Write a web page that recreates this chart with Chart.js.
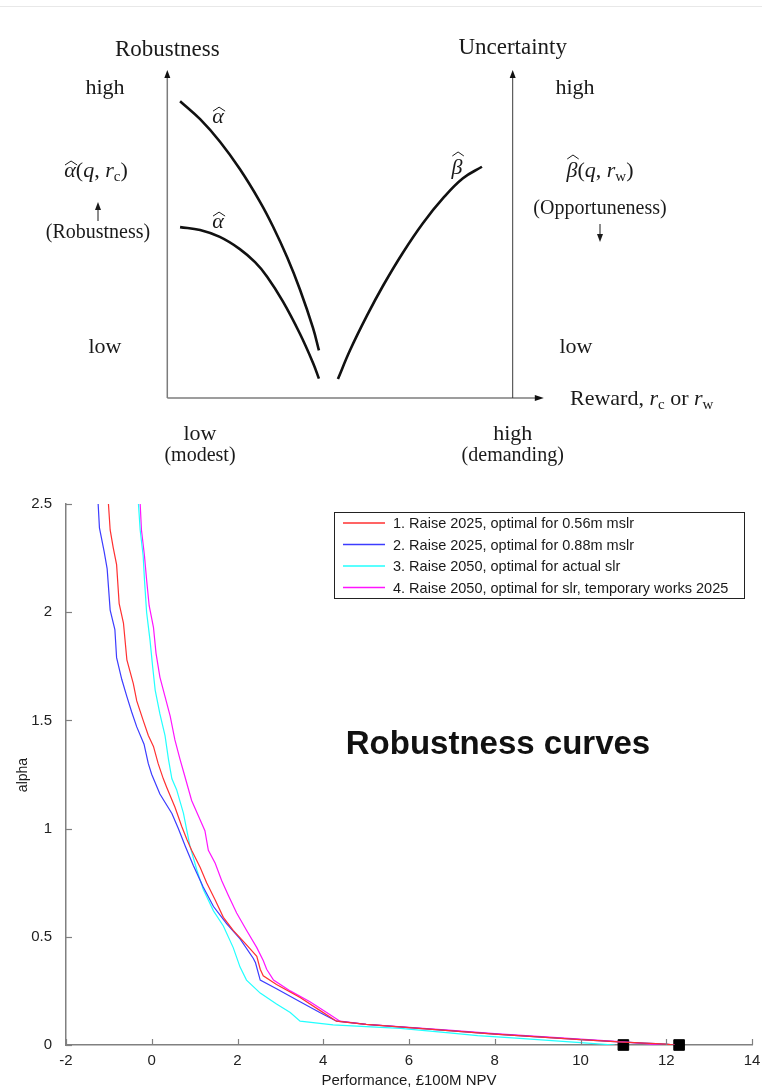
<!DOCTYPE html>
<html>
<head>
<meta charset="utf-8">
<title>Robustness curves</title>
<script src="https://cdn.jsdelivr.net/npm/chart.js@4.4.1/dist/chart.umd.min.js"></script>
<style>
  html, body { margin: 0; padding: 0; background: #fff; }
  body { width: 762px; height: 1089px; position: relative; overflow: hidden; }
  .rule { position: absolute; left: 0; top: 6px; width: 762px; height: 1px; background: #e8e8e8; }
  #sketch { position: absolute; left: 0; top: 0; }
  #curves { position: absolute; left: 0; top: 480px; }
</style>
</head>
<body>
<div class="rule"></div>
<canvas id="sketch" width="762" height="480"></canvas>
<canvas id="curves" width="762" height="609"></canvas>
<script>
// Concept sketch, arbitrary units: reward 0..10 across, robustness / uncertainty 0..10 up
const upperReward = [0.37, 0.95, 1.52, 2.10, 2.68, 3.06, 3.47, 3.84, 4.22, 4.39];
const upperRobust = [9.05, 8.50, 7.82, 6.98, 5.99, 5.23, 4.29, 3.31, 2.13, 1.45];
const lowerReward = [0.37, 0.95, 1.52, 2.10, 2.54, 2.89, 3.35, 3.84, 4.22, 4.39];
const lowerRobust = [5.21, 5.12, 4.91, 4.54, 4.14, 3.70, 2.94, 1.96, 1.07, 0.59];
const betaReward = [4.94, 5.29, 5.78, 6.25, 6.82, 7.40, 7.99, 8.56, 9.11];
const betaOpport = [0.58, 1.455, 2.51, 3.43, 4.43, 5.33, 6.10, 6.70, 7.05];

// Robustness curves: performance (£100M NPV) against alpha
const seriesLabels = [
  "1. Raise 2025, optimal for 0.56m mslr",
  "2. Raise 2025, optimal for 0.88m mslr",
  "3. Raise 2050, optimal for actual slr",
  "4. Raise 2050, optimal for slr, temporary works 2025",
];
const seriesColors = ["#ff3030", "#3c3cff", "#22ffff", "#ff14ff"];

const perf1 = [-1.01, -0.97, -0.90, -0.82, -0.76, -0.66, -0.58, -0.43, -0.35, -0.20, -0.08, 0.04, 0.15, 0.27, 0.35, 0.54, 0.70, 0.82, 0.93, 1.13, 1.28, 1.48, 1.67, 1.90, 2.18, 2.45, 2.53, 2.60, 2.91, 3.46, 3.92, 4.31, 5.0, 6.0, 7.0, 8.0, 9.0, 10.0, 11.0, 12.0, 12.2];
const alpha1 = [2.5, 2.38, 2.30, 2.22, 2.04, 1.95, 1.78, 1.67, 1.59, 1.50, 1.43, 1.38, 1.30, 1.23, 1.19, 1.10, 1.01, 0.95, 0.90, 0.82, 0.75, 0.67, 0.59, 0.53, 0.47, 0.41, 0.35, 0.32, 0.28, 0.22, 0.16, 0.11, 0.095, 0.08, 0.065, 0.05, 0.038, 0.025, 0.013, 0.004, 0];

const perf2 = [-1.25, -1.22, -1.11, -1.04, -0.97, -0.86, -0.82, -0.70, -0.58, -0.47, -0.35, -0.18, -0.08, 0.0, 0.19, 0.47, 0.62, 0.78, 0.97, 1.20, 1.44, 1.75, 2.06, 2.37, 2.42, 2.53, 2.91, 3.46, 3.92, 4.31, 5.0, 6.0, 7.0, 8.0, 9.0, 10.0, 11.0, 12.0, 12.2];
const alpha2 = [2.5, 2.39, 2.28, 2.20, 2.01, 1.92, 1.79, 1.69, 1.61, 1.54, 1.47, 1.39, 1.30, 1.25, 1.16, 1.07, 1.00, 0.92, 0.83, 0.73, 0.64, 0.56, 0.49, 0.40, 0.38, 0.30, 0.26, 0.20, 0.15, 0.11, 0.095, 0.08, 0.065, 0.05, 0.038, 0.025, 0.013, 0.004, 0];

const perf3 = [-0.31, -0.27, -0.20, -0.17, -0.12, -0.04, 0.02, 0.08, 0.19, 0.31, 0.39, 0.47, 0.58, 0.74, 0.82, 0.89, 1.05, 1.20, 1.44, 1.67, 1.90, 2.06, 2.21, 2.53, 2.91, 3.23, 3.46, 3.92, 4.23, 5.0, 5.8, 7.0, 7.6, 8.5, 10.0, 10.8];
const alpha3 = [2.5, 2.38, 2.26, 2.15, 2.00, 1.87, 1.75, 1.64, 1.53, 1.43, 1.32, 1.23, 1.18, 1.07, 0.99, 0.92, 0.81, 0.72, 0.62, 0.55, 0.45, 0.36, 0.30, 0.24, 0.19, 0.15, 0.11, 0.10, 0.093, 0.085, 0.077, 0.055, 0.043, 0.032, 0.011, 0];

const perf4 = [-0.27, -0.24, -0.17, -0.12, -0.06, 0.04, 0.10, 0.19, 0.31, 0.43, 0.54, 0.66, 0.76, 0.93, 1.13, 1.24, 1.32, 1.48, 1.63, 1.79, 1.98, 2.21, 2.45, 2.60, 2.68, 2.84, 3.23, 3.69, 4.08, 4.39, 5.0, 6.0, 7.0, 8.0, 9.0, 10.0, 11.0, 11.9];
const alpha4 = [2.5, 2.38, 2.26, 2.15, 2.03, 1.93, 1.81, 1.70, 1.61, 1.52, 1.41, 1.32, 1.25, 1.13, 1.04, 0.99, 0.90, 0.84, 0.76, 0.69, 0.61, 0.53, 0.45, 0.39, 0.35, 0.30, 0.25, 0.20, 0.15, 0.11, 0.095, 0.082, 0.068, 0.053, 0.04, 0.027, 0.014, 0];

const markerPerf = [11.0, 12.3];
const markerAlpha = [0, 0];

const toPoints = (xs, ys) => xs.map((x, i) => ({ x: x, y: ys[i] }));

const SERIF = '"Liberation Serif", "Times New Roman", serif';
const SANS = '"Liberation Sans", Arial, Helvetica, sans-serif';

function hat(ctx, cx, top, w) {
  ctx.beginPath();
  ctx.moveTo(cx - w / 2, top + 4);
  ctx.lineTo(cx, top);
  ctx.lineTo(cx + w / 2, top + 4);
  ctx.lineWidth = 1;
  ctx.stroke();
}

// draws a row of text pieces (roman / italic / subscript) from one baseline
function runs(ctx, parts, x, y, align) {
  let total = 0;
  parts.forEach((p) => {
    ctx.font = p.font;
    p.w = ctx.measureText(p.t).width;
    total += p.w;
  });
  let cx = align === "center" ? x - total / 2 : x;
  ctx.textAlign = "left";
  ctx.textBaseline = "alphabetic";
  parts.forEach((p) => {
    ctx.font = p.font;
    ctx.fillText(p.t, cx, y + (p.dy || 0));
    if (p.hat) hat(ctx, cx + p.w / 2 + 1, y - p.hat, p.w * 1.05);
    cx += p.w;
  });
}

function arrowHead(ctx, x, y, dir) {
  ctx.beginPath();
  if (dir === "up") {
    ctx.moveTo(x, y); ctx.lineTo(x - 3, y + 8); ctx.lineTo(x + 3, y + 8);
  } else if (dir === "down") {
    ctx.moveTo(x, y); ctx.lineTo(x - 3, y - 8); ctx.lineTo(x + 3, y - 8);
  } else {
    ctx.moveTo(x, y); ctx.lineTo(x - 9, y - 3); ctx.lineTo(x - 9, y + 3);
  }
  ctx.closePath();
  ctx.fill();
}

function seg(ctx, x1, y1, x2, y2) {
  ctx.beginPath();
  ctx.moveTo(x1, y1);
  ctx.lineTo(x2, y2);
  ctx.stroke();
}

const sketchDecor = {
  id: "sketchDecor",
  afterDraw(chart) {
    const { ctx } = chart;
    const sx = chart.scales.x, sy = chart.scales.y;
    const x0 = sx.getPixelForValue(0), x10 = sx.getPixelForValue(10), xTip = sx.getPixelForValue(10.9);
    const y0 = sy.getPixelForValue(0), yTop = sy.getPixelForValue(10);
    ctx.save();

    // axes with arrows
    ctx.strokeStyle = "#7c7c7c";
    ctx.lineWidth = 1.5;
    seg(ctx, x0, y0, x0, yTop + 4);
    seg(ctx, x0, y0, xTip - 4, y0);
    ctx.strokeStyle = "#3a3a3a";
    ctx.lineWidth = 1;
    seg(ctx, x10, y0, x10, yTop + 4);
    ctx.fillStyle = "#111";
    arrowHead(ctx, x0, yTop, "up");
    arrowHead(ctx, x10, yTop, "up");
    arrowHead(ctx, xTip, y0, "right");

    ctx.fillStyle = "#1a1a1a";
    ctx.strokeStyle = "#1a1a1a";
    const big = "22px " + SERIF, par = "20px " + SERIF;
    const it = "italic 22px " + SERIF, sub = "15px " + SERIF;

    runs(ctx, [{ t: "Robustness", font: "23px " + SERIF }], x0, 56, "center");
    runs(ctx, [{ t: "Uncertainty", font: "23px " + SERIF }], x10, 54, "center");
    runs(ctx, [{ t: "high", font: big }], 105, 94, "center");
    runs(ctx, [{ t: "high", font: big }], 575, 94, "center");
    runs(ctx, [{ t: "low", font: big }], 105, 353, "center");
    runs(ctx, [{ t: "low", font: big }], 576, 353, "center");

    runs(ctx, [
      { t: "α", font: it, hat: 16 }, { t: "(", font: big }, { t: "q", font: it },
      { t: ", ", font: big }, { t: "r", font: it }, { t: "c", font: sub, dy: 4 }, { t: ")", font: big },
    ], 96, 177, "center");
    runs(ctx, [{ t: "(Robustness)", font: par }], 98, 238, "center");
    ctx.lineWidth = 1;
    seg(ctx, 98, 221, 98, 205);
    arrowHead(ctx, 98, 202, "up");

    runs(ctx, [
      { t: "β", font: it, hat: 22 }, { t: "(", font: big }, { t: "q", font: it },
      { t: ", ", font: big }, { t: "r", font: it }, { t: "w", font: sub, dy: 4 }, { t: ")", font: big },
    ], 600, 177, "center");
    runs(ctx, [{ t: "(Opportuneness)", font: par }], 600, 214, "center");
    ctx.lineWidth = 1;
    seg(ctx, 600, 224, 600, 238);
    arrowHead(ctx, 600, 242, "down");

    runs(ctx, [{ t: "low", font: big }], 200, 440, "center");
    runs(ctx, [{ t: "(modest)", font: par }], 200, 461, "center");
    runs(ctx, [{ t: "high", font: big }], x10, 440, "center");
    runs(ctx, [{ t: "(demanding)", font: par }], x10, 461, "center");

    runs(ctx, [
      { t: "Reward, ", font: big }, { t: "r", font: it }, { t: "c", font: sub, dy: 4 },
      { t: " or ", font: big }, { t: "r", font: it }, { t: "w", font: sub, dy: 4 },
    ], 570, 405, "left");

    // curve names beside each line
    runs(ctx, [{ t: "α", font: it, hat: 16 }], sx.getPixelForValue(1.47), sy.getPixelForValue(8.38), "center");
    runs(ctx, [{ t: "α", font: it, hat: 16 }], sx.getPixelForValue(1.47), sy.getPixelForValue(5.18), "center");
    runs(ctx, [{ t: "β", font: it, hat: 22 }], sx.getPixelForValue(8.39), sy.getPixelForValue(6.83), "center");
    ctx.restore();
  },
};

const curveStyle = {
  showLine: true,
  borderColor: "#111",
  borderWidth: 2.6,
  pointRadius: 0,
  tension: 0.4,
};

new Chart(document.getElementById("sketch"), {
  type: "scatter",
  data: {
    datasets: [
      { ...curveStyle, data: toPoints(upperReward, upperRobust) },
      { ...curveStyle, data: toPoints(lowerReward, lowerRobust) },
      { ...curveStyle, data: toPoints(betaReward, betaOpport) },
    ],
  },
  options: {
    responsive: false,
    animation: false,
    events: [],
    layout: { padding: { left: 167.3, right: 249.3, top: 70, bottom: 82 } },
    scales: {
      x: { type: "linear", min: 0, max: 10, display: false },
      y: { type: "linear", min: 0, max: 10, display: false },
    },
    plugins: { legend: { display: false }, tooltip: { enabled: false } },
  },
  plugins: [sketchDecor],
});

const curveDecor = {
  id: "curveDecor",
  afterDraw(chart) {
    const { ctx, chartArea: a } = chart;
    const sx = chart.scales.x, sy = chart.scales.y;
    ctx.save();

    // inward tick marks
    ctx.strokeStyle = "#808080";
    ctx.lineWidth = 1.2;
    sy.ticks.forEach((t) => {
      const py = Math.round(sy.getPixelForValue(t.value)) + 0.5;
      seg(ctx, a.left, py, a.left + 6, py);
    });
    sx.ticks.forEach((t) => {
      const px = Math.round(sx.getPixelForValue(t.value)) + 0.5;
      seg(ctx, px, a.bottom, px, a.bottom - 6);
    });

    // legend box
    const bx = a.right - 418, by = a.top + 8, bw = 410, bh = 86;
    ctx.fillStyle = "#fff";
    ctx.fillRect(bx, by, bw, bh);
    ctx.strokeStyle = "#222";
    ctx.lineWidth = 1;
    ctx.strokeRect(bx + 0.5, by + 0.5, bw, bh);
    ctx.font = "14.5px " + SANS;
    ctx.textAlign = "left";
    ctx.textBaseline = "middle";
    seriesLabels.forEach((label, i) => {
      const ry = by + 11 + i * 21.5;
      ctx.strokeStyle = seriesColors[i];
      ctx.lineWidth = 1.5;
      seg(ctx, bx + 9, ry, bx + 51, ry);
      ctx.fillStyle = "#1a1a1a";
      ctx.fillText(label, bx + 59, ry + 1);
    });

    // title inside the plot
    ctx.fillStyle = "#111";
    ctx.font = "bold 33px " + SANS;
    ctx.textAlign = "center";
    ctx.fillText("Robustness curves", 498, 265);

    // axis titles
    ctx.font = "15px " + SANS;
    ctx.fillStyle = "#1a1a1a";
    ctx.fillText("Performance, £100M NPV", (a.left + a.right) / 2, 601);
    ctx.translate(23, 295);
    ctx.rotate(-Math.PI / 2);
    ctx.font = "14px " + SANS;
    ctx.fillText("alpha", 0, 0);
    ctx.restore();
  },
};

const seriesPerf = [perf1, perf2, perf3, perf4];
const seriesAlpha = [alpha1, alpha2, alpha3, alpha4];

const lineSets = seriesLabels.map((label, i) => ({
  label: label,
  data: toPoints(seriesPerf[i], seriesAlpha[i]),
  showLine: true,
  borderColor: seriesColors[i],
  borderWidth: 1.2,
  pointRadius: 0,
  tension: 0,
}));

new Chart(document.getElementById("curves"), {
  type: "scatter",
  data: {
    datasets: [
      ...lineSets,
      {
        label: "markers",
        data: toPoints(markerPerf, markerAlpha),
        pointStyle: "rect",
        pointRadius: 7.5,
        backgroundColor: "#000",
        borderColor: "#000",
        clip: false,
      },
    ],
  },
  options: {
    responsive: false,
    animation: false,
    events: [],
    layout: { padding: { left: 0, right: 10, top: 24, bottom: 0 } },
    scales: {
      x: {
        type: "linear",
        min: -2,
        max: 14,
        ticks: { stepSize: 2, padding: -1, color: "#222", font: { family: SANS, size: 15 } },
        grid: { display: false },
        border: { color: "#808080", width: 1.5 },
        afterFit: (s) => { s.height = 44; },
      },
      y: {
        type: "linear",
        min: 0,
        max: 2.5,
        ticks: {
          stepSize: 0.5,
          padding: 6,
          color: "#222",
          font: { family: SANS, size: 15 },
          callback: (v) => String(v),
        },
        grid: { display: false },
        border: { color: "#808080", width: 1.5 },
        afterFit: (s) => { s.width = 66; },
      },
    },
    plugins: { legend: { display: false }, tooltip: { enabled: false } },
  },
  plugins: [curveDecor],
});
</script>
</body>
</html>
